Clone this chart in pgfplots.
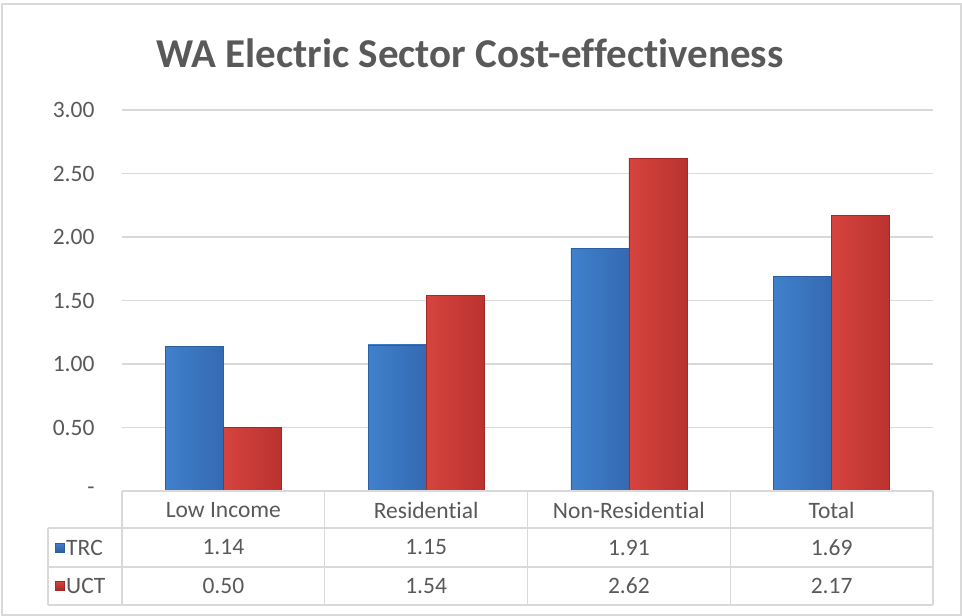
\documentclass[border=0pt]{standalone}
\usepackage{pgfplots}
\pgfplotsset{compat=1.18}
\usepackage{fontspec}
\setmainfont{Carlito}[Ligatures={NoCommon}]
\definecolor{txt}{HTML}{595959}
\definecolor{gridc}{HTML}{D9D9D9}
\definecolor{blueM}{RGB}{62,124,200}
\definecolor{blueL}{RGB}{64,128,204}
\definecolor{blueR}{RGB}{52,106,178}
\definecolor{blueD}{RGB}{46,94,162}
\definecolor{redM}{RGB}{210,64,60}
\definecolor{redL}{RGB}{214,68,62}
\definecolor{redR}{RGB}{186,50,46}
\definecolor{redD}{RGB}{164,40,38}
\newcommand{\lbl}{\fontsize{23.5}{28}\selectfont\color{txt}}
\begin{document}
\begin{tikzpicture}[x=1pt,y=1pt]
\path[use as bounding box] (-122,-125) rectangle (840,491);
\draw[gridc, line width=1.2pt] (-120,-124) rectangle (839,487);
\node[font=\fontsize{41}{49}\bfseries\selectfont, text=txt] at (348,438) {WA Electric Sector Cost-effectiveness};
\begin{axis}[
  at={(0,0)}, anchor=south west,
  scale only axis, width=811pt, height=381pt,
  xmin=-0.5, xmax=3.5, ymin=0, ymax=3,
  axis line style={draw=none},
  xtick=\empty,
  ytick={0,0.5,1,1.5,2,2.5,3},
  yticklabels={{-\hspace{11pt}},0.50,1.00,1.50,2.00,2.50,3.00},
  ymajorgrids, grid style={gridc, line width=1.2pt},
  major tick length=0pt,
  yticklabel style={font=\lbl, anchor=east, xshift=-24pt},
  clip=false,
  /pgf/number format/assume math mode=true,
  tbar/.style={ybar, bar width=58pt, bar shift=-29pt, draw=blueD, left color=blueL, middle color=blueM, right color=blueR},
  ubar/.style={ybar, bar width=58pt, bar shift=29pt, draw=redD, left color=redL, middle color=redM, right color=redR},
]
% TRC
\addplot[tbar] coordinates {(0,1.14)};
\addplot[tbar] coordinates {(1,1.15)};
\addplot[tbar] coordinates {(2,1.91)};
\addplot[tbar] coordinates {(3,1.69)};
% UCT
\addplot[ubar] coordinates {(0,0.50)};
\addplot[ubar] coordinates {(1,1.54)};
\addplot[ubar] coordinates {(2,2.62)};
\addplot[ubar] coordinates {(3,2.17)};
% data table
\draw[gridc, line width=1.2pt] (axis cs:-0.5,0) -- (axis cs:3.5,0);
\draw[gridc, line width=1.2pt] (axis cs:-0.865,-0.291) -- (axis cs:3.5,-0.291);
\draw[gridc, line width=1.2pt] (axis cs:-0.865,-0.598) -- (axis cs:3.5,-0.598);
\draw[gridc, line width=1.2pt] (axis cs:-0.865,-0.898) -- (axis cs:3.5,-0.898);
\draw[gridc, line width=1.2pt] (axis cs:-0.865,-0.291) -- (axis cs:-0.865,-0.898);
\draw[gridc, line width=1.2pt] (axis cs:-0.5,0) -- (axis cs:-0.5,-0.898);
\draw[gridc, line width=1.2pt] (axis cs:0.5,0) -- (axis cs:0.5,-0.898);
\draw[gridc, line width=1.2pt] (axis cs:1.5,0) -- (axis cs:1.5,-0.898);
\draw[gridc, line width=1.2pt] (axis cs:2.5,0) -- (axis cs:2.5,-0.898);
\draw[gridc, line width=1.2pt] (axis cs:3.5,0) -- (axis cs:3.5,-0.898);
\node[font=\lbl] at (axis cs:0,-0.150) {Low Income};
\node[font=\lbl] at (axis cs:1,-0.150) {Residential};
\node[font=\lbl] at (axis cs:2,-0.150) {Non-Residential};
\node[font=\lbl] at (axis cs:3,-0.150) {Total};
\node[font=\lbl] at (axis cs:0,-0.445) {1.14};
\node[font=\lbl] at (axis cs:1,-0.445) {1.15};
\node[font=\lbl] at (axis cs:2,-0.445) {1.91};
\node[font=\lbl] at (axis cs:3,-0.445) {1.69};
\node[font=\lbl] at (axis cs:0,-0.748) {0.50};
\node[font=\lbl] at (axis cs:1,-0.748) {1.54};
\node[font=\lbl] at (axis cs:2,-0.748) {2.62};
\node[font=\lbl] at (axis cs:3,-0.748) {2.17};
\node[minimum size=9pt, inner sep=0pt, draw=blueD, top color=blueL, bottom color=blueD] at (axis cs:-0.808,-0.445) {};
\node[minimum size=9pt, inner sep=0pt, draw=redD, top color=redL, bottom color=redD] at (axis cs:-0.808,-0.748) {};
\node[font=\lbl, anchor=west, inner sep=0pt] at (axis cs:-0.776,-0.445) {TRC};
\node[font=\lbl, anchor=west, inner sep=0pt] at (axis cs:-0.776,-0.748) {UCT};
\end{axis}
\end{tikzpicture}
\end{document}
